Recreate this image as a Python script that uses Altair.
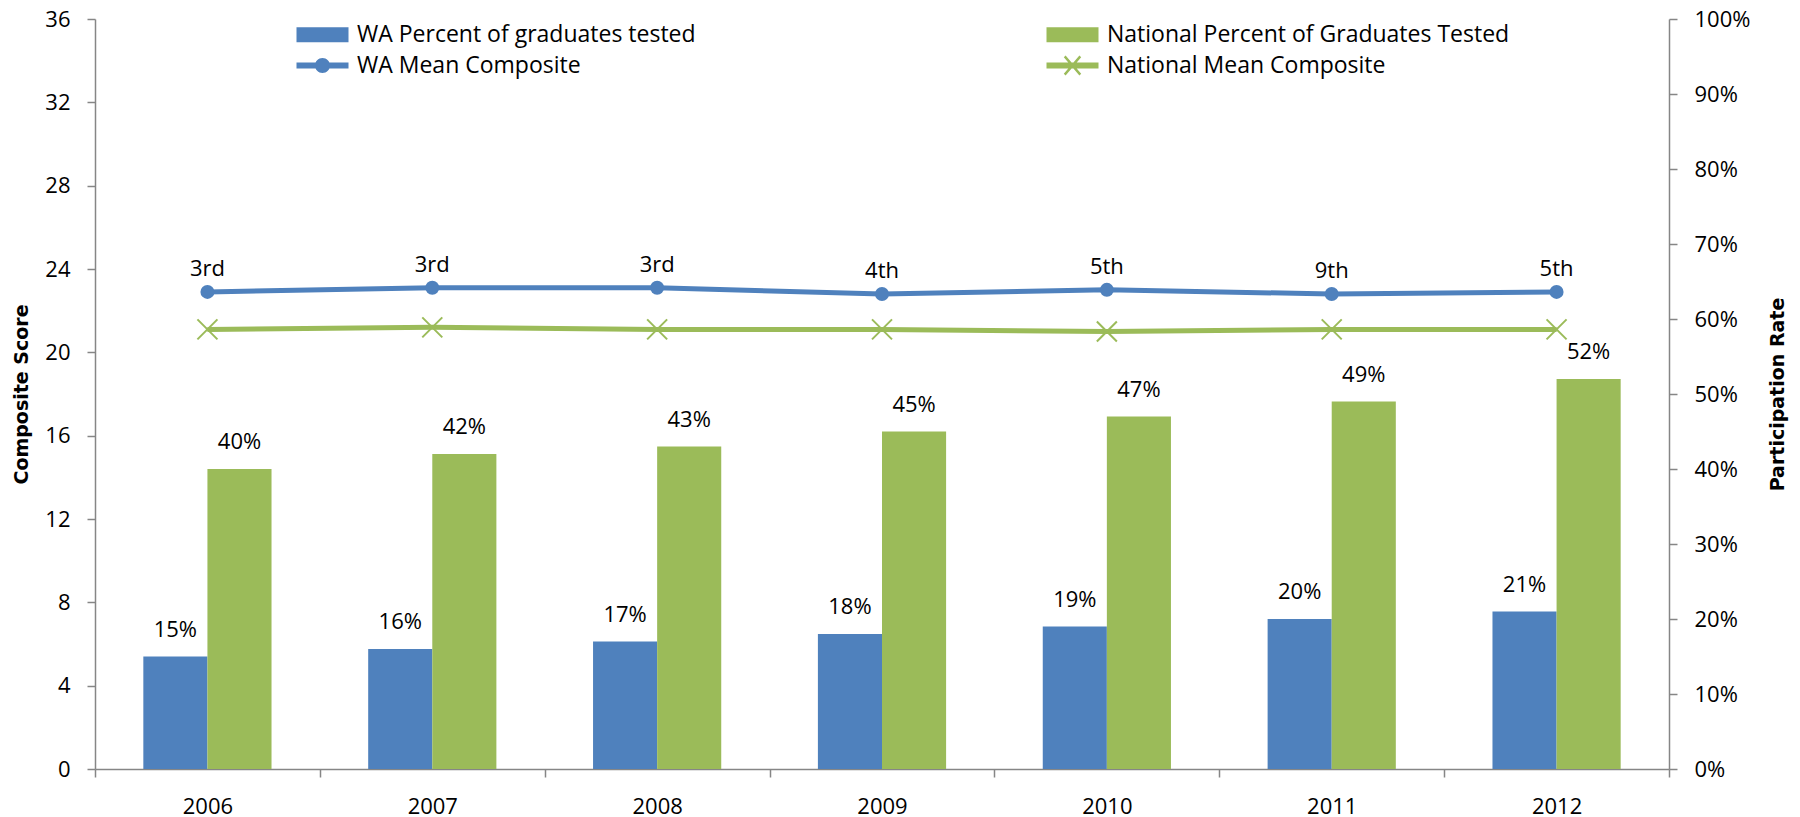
import altair as alt
import pandas as pd

years = ["2006", "2007", "2008", "2009", "2010", "2011", "2012"]
wa_pct = [15, 16, 17, 18, 19, 20, 21]
nat_pct = [40, 42, 43, 45, 47, 49, 52]
wa_mean = [22.9, 23.1, 23.1, 22.8, 23.0, 22.8, 22.9]
nat_mean = [21.1, 21.2, 21.1, 21.1, 21.0, 21.1, 21.1]
wa_rank = ["3rd", "3rd", "3rd", "4th", "5th", "9th", "5th"]

bar_series = ["WA Percent of graduates tested", "National Percent of Graduates Tested"]
line_series = ["WA Mean Composite", "National Mean Composite"]
# legend fills column by column: column 1 = WA items, column 2 = National items
legend_order = [bar_series[0], line_series[0], bar_series[1], line_series[1]]

BLUE = "#4F81BD"
GREEN = "#9BBB59"
legend_colors = [BLUE, BLUE, GREEN, GREEN]

# legend symbol shapes (unit = half of sqrt(symbolSize) = 10px)
RECT = "M-2.6,-0.75L2.6,-0.75L2.6,0.75L-2.6,0.75Z"
LINE_DOT = ("M-2.6,-0.3L2.6,-0.3L2.6,0.3L-2.6,0.3Z"
            "M-0.75,0A0.75,0.75 0 1,1 0.75,0A0.75,0.75 0 1,1 -0.75,0Z")
LINE_X = ("M-2.6,-0.3L2.6,-0.3L2.6,0.3L-2.6,0.3Z"
          "M-0.69,-1L0.87,0.82L0.69,1L-0.87,-0.82Z"
          "M-0.69,1L-0.87,0.82L0.69,-1L0.87,-0.82Z")
legend_shapes = [RECT, LINE_DOT, RECT, LINE_X]
X_MARK = "M-1,-1L1,1M1,-1L-1,1"

bars = pd.DataFrame({
    "year": years * 2,
    "series": [bar_series[0]] * len(years) + [bar_series[1]] * len(years),
    "pct": wa_pct + nat_pct,
})
bars["label"] = bars["pct"].astype(str) + "%"

wa = pd.DataFrame({"year": years, "score": wa_mean, "rank": wa_rank})
nat = pd.DataFrame({"year": years, "score": nat_mean})
leg = pd.DataFrame({"series": legend_order})

FONT = "Open Sans"
FS = 22

x_enc = alt.X(
    "year:N", sort=years,
    scale=alt.Scale(paddingInner=0, paddingOuter=0),
    axis=alt.Axis(title=None, tickBand="extent", labelAngle=0, labelPadding=19),
)

y_left = alt.Y(
    "score:Q",
    scale=alt.Scale(domain=[0, 36], nice=False),
    axis=alt.Axis(
        values=list(range(0, 37, 4)), orient="left", title="Composite Score",
        titleAngle=270, titleX=-68, titleY=375, titleBaseline="alphabetic",
        titleAlign="center", labelPadding=17,
    ),
)

y_right = alt.Y(
    "pct:Q",
    scale=alt.Scale(domain=[0, 100], nice=False),
    axis=alt.Axis(
        values=list(range(0, 101, 10)), orient="right", title="Participation Rate",
        labelExpr="datum.value + '%'",
        titleAngle=270, titleX=114, titleY=375, titleBaseline="alphabetic",
        titleAlign="center", labelPadding=17,
    ),
)

xoff = alt.XOffset("series:N", sort=bar_series,
                   scale=alt.Scale(domain=bar_series, paddingInner=0, paddingOuter=0.754))

bar_layer = alt.Chart(bars).mark_bar().encode(
    x=x_enc, xOffset=xoff, y=y_right,
    fill=alt.Fill("series:N", scale=alt.Scale(domain=bar_series, range=[BLUE, GREEN]), legend=None),
)
bar_text = alt.Chart(bars).mark_text(dy=-27, font=FONT, fontSize=FS, color="black").encode(
    x=x_enc, xOffset=xoff, y=y_right, text="label:N",
)
right = alt.layer(bar_layer, bar_text)

wa_line = alt.Chart(wa).mark_line(color=BLUE, strokeWidth=5).encode(x=x_enc, y=y_left)
wa_pts = alt.Chart(wa).mark_point(filled=True, color=BLUE, size=196, opacity=1, shape="circle").encode(x=x_enc, y=y_left)
wa_text = alt.Chart(wa).mark_text(dy=-23, font=FONT, fontSize=FS, color="black").encode(
    x=x_enc, y=y_left, text="rank:N")
nat_line = alt.Chart(nat).mark_line(color=GREEN, strokeWidth=5).encode(x=x_enc, y=y_left)
nat_pts = alt.Chart(nat).mark_point(filled=False, shape=X_MARK, size=400, stroke=GREEN,
                                    strokeWidth=2, opacity=1).encode(x=x_enc, y=y_left)

legend_def = alt.Legend(
    title=None, orient="none", legendX=216, legendY=4, columns=2,
    columnPadding=350, rowPadding=7, symbolSize=400, symbolStrokeWidth=0,
    symbolOpacity=1, labelOffset=23, labelLimit=600, labelFont=FONT,
    labelFontSize=23, labelColor="black", padding=0,
)
legend_layer = alt.Chart(leg).mark_point(filled=True, opacity=0, size=400).encode(
    color=alt.Color("series:N", scale=alt.Scale(domain=legend_order, range=legend_colors),
                    sort=legend_order, legend=legend_def),
    shape=alt.Shape("series:N", scale=alt.Scale(domain=legend_order, range=legend_shapes),
                    sort=legend_order, legend=legend_def),
)

left = alt.layer(wa_line, nat_line, wa_pts, nat_pts, wa_text, legend_layer)

chart = alt.layer(left, right).resolve_scale(y="independent").properties(
    width=1574, height=750,
    padding={"left": 87, "top": 11, "right": 123, "bottom": 48},
    autosize=alt.AutoSizeParams(type="none"),
).configure_view(stroke=None).configure_axis(
    grid=False, domainColor="#868686", tickColor="#868686", domainWidth=1.5,
    tickWidth=1.5, tickSize=8, labelFont=FONT, labelFontSize=FS, labelColor="black",
    titleFont="DejaVu Sans", titleFontSize=19, titleFontWeight="bold", titleColor="black",
)

chart.save("out.html", embed_options={"renderer": "svg", "actions": False})
